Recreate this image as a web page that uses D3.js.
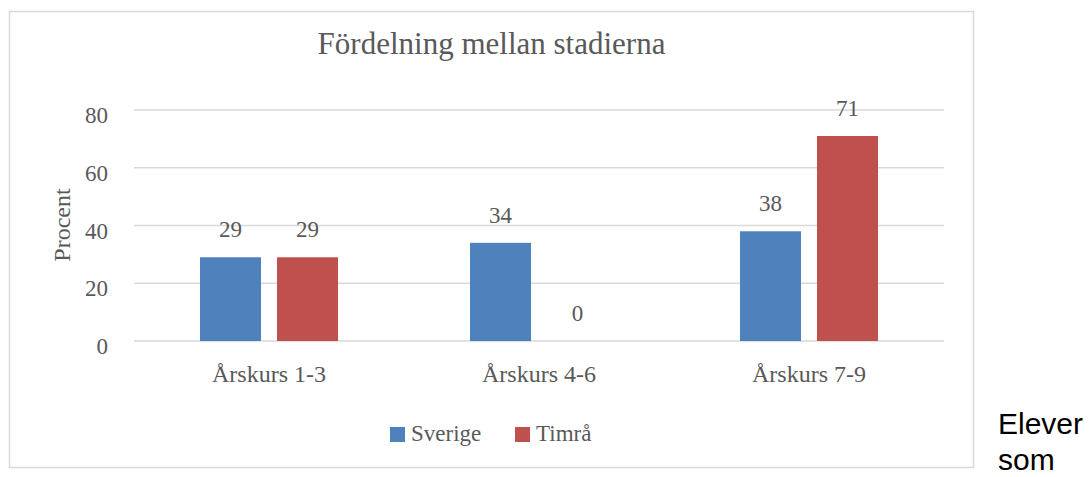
<!DOCTYPE html>
<html>
<head>
<meta charset="utf-8">
<script src="https://cdn.jsdelivr.net/npm/d3@7"></script>
<style>
  html, body { margin: 0; padding: 0; background: #fff; }
  svg { display: block; }
  .serif { font-family: "Liberation Serif", "DejaVu Serif", serif; fill: #595959; }
</style>
</head>
<body>
<svg id="chart" width="1091" height="477"></svg>
<script>
/* chart data */
var categories = ["Årskurs 1-3", "Årskurs 4-6", "Årskurs 7-9"];
var seriesNames = ["Sverige", "Timrå"];
var sverige = [29, 34, 38];
var timra = [29, 0, 71];
var yTicks = [0, 20, 40, 60, 80];
var colors = ["#4F81BD", "#C0504D"];

var svg = d3.select("#chart");

/* outer frame of the chart */
svg.append("rect")
  .attr("x", 9.5).attr("y", 11.5)
  .attr("width", 964).attr("height", 456)
  .attr("fill", "#fff")
  .attr("stroke", "#D9D9D9")
  .attr("stroke-width", 1.5);

var plotLeft = 134, plotRight = 944;

var y = d3.scaleLinear().domain([0, 80]).range([341, 110]);
var x0 = d3.scaleBand().domain(categories).range([plotLeft, plotRight]).padding(0);
var x1 = d3.scaleBand().domain(seriesNames).range([0, x0.bandwidth()])
  .paddingInner(0.208).paddingOuter(0.857);

/* gridlines */
svg.selectAll("line.grid")
  .data(yTicks)
  .enter()
  .append("line")
  .attr("class", "grid")
  .attr("x1", plotLeft).attr("x2", plotRight)
  .attr("y1", function(d){ return y(d); })
  .attr("y2", function(d){ return y(d); })
  .attr("stroke", "#D9D9D9")
  .attr("stroke-width", 1.5);

/* y tick labels */
svg.selectAll("text.ytick")
  .data(yTicks)
  .enter()
  .append("text")
  .attr("class", "ytick serif")
  .attr("x", 108)
  .attr("y", function(d){ return y(d) + 13; })
  .attr("text-anchor", "end")
  .style("font-size", "23px")
  .text(function(d){ return d; });

/* build rows for the bars */
var rows = [];
for (var i = 0; i < categories.length; i++) {
  rows.push({ cat: categories[i], series: seriesNames[0], value: sverige[i], color: colors[0] });
  rows.push({ cat: categories[i], series: seriesNames[1], value: timra[i], color: colors[1] });
}

svg.selectAll("rect.bar")
  .data(rows)
  .enter()
  .append("rect")
  .attr("class", "bar")
  .attr("x", function(d){ return x0(d.cat) + x1(d.series); })
  .attr("y", function(d){ return y(d.value); })
  .attr("width", x1.bandwidth())
  .attr("height", function(d){ return y(0) - y(d.value); })
  .attr("fill", function(d){ return d.color; });

/* value labels */
svg.selectAll("text.value")
  .data(rows)
  .enter()
  .append("text")
  .attr("class", "value serif")
  .attr("x", function(d){ return x0(d.cat) + x1(d.series) + x1.bandwidth() / 2; })
  .attr("y", function(d){ return y(d.value) - 20; })
  .attr("text-anchor", "middle")
  .style("font-size", "23px")
  .text(function(d){ return d.value; });

/* category labels */
svg.selectAll("text.cat")
  .data(categories)
  .enter()
  .append("text")
  .attr("class", "cat serif")
  .attr("x", function(d){ return x0(d) + x0.bandwidth() / 2; })
  .attr("y", 382)
  .attr("text-anchor", "middle")
  .style("font-size", "24px")
  .text(function(d){ return d; });

/* title */
svg.append("text")
  .attr("class", "serif")
  .attr("x", 491.5).attr("y", 54)
  .attr("text-anchor", "middle")
  .style("font-size", "31px")
  .text("Fördelning mellan stadierna");

/* y axis title */
svg.append("text")
  .attr("class", "serif")
  .attr("transform", "translate(70,225) rotate(-90)")
  .attr("text-anchor", "middle")
  .style("font-size", "24px")
  .text("Procent");

/* legend */
var legendX = [390, 515];
var legend = svg.selectAll("g.legend")
  .data(seriesNames)
  .enter()
  .append("g")
  .attr("class", "legend")
  .attr("transform", function(d, i){ return "translate(" + legendX[i] + ",427)"; });
legend.append("rect")
  .attr("width", 15).attr("height", 15)
  .attr("fill", function(d, i){ return colors[i]; });
legend.append("text")
  .attr("class", "serif")
  .attr("x", 21).attr("y", 14)
  .style("font-size", "23px")
  .text(function(d){ return d; });

/* text of the surrounding document */
svg.append("text")
  .attr("x", 998).attr("y", 434)
  .style("font-family", "'Liberation Sans', Arial, sans-serif")
  .style("font-size", "30px")
  .attr("fill", "#000")
  .text("Elever");
svg.append("text")
  .attr("x", 998).attr("y", 470)
  .style("font-family", "'Liberation Sans', Arial, sans-serif")
  .style("font-size", "30px")
  .attr("fill", "#000")
  .text("som");
</script>
</body>
</html>
